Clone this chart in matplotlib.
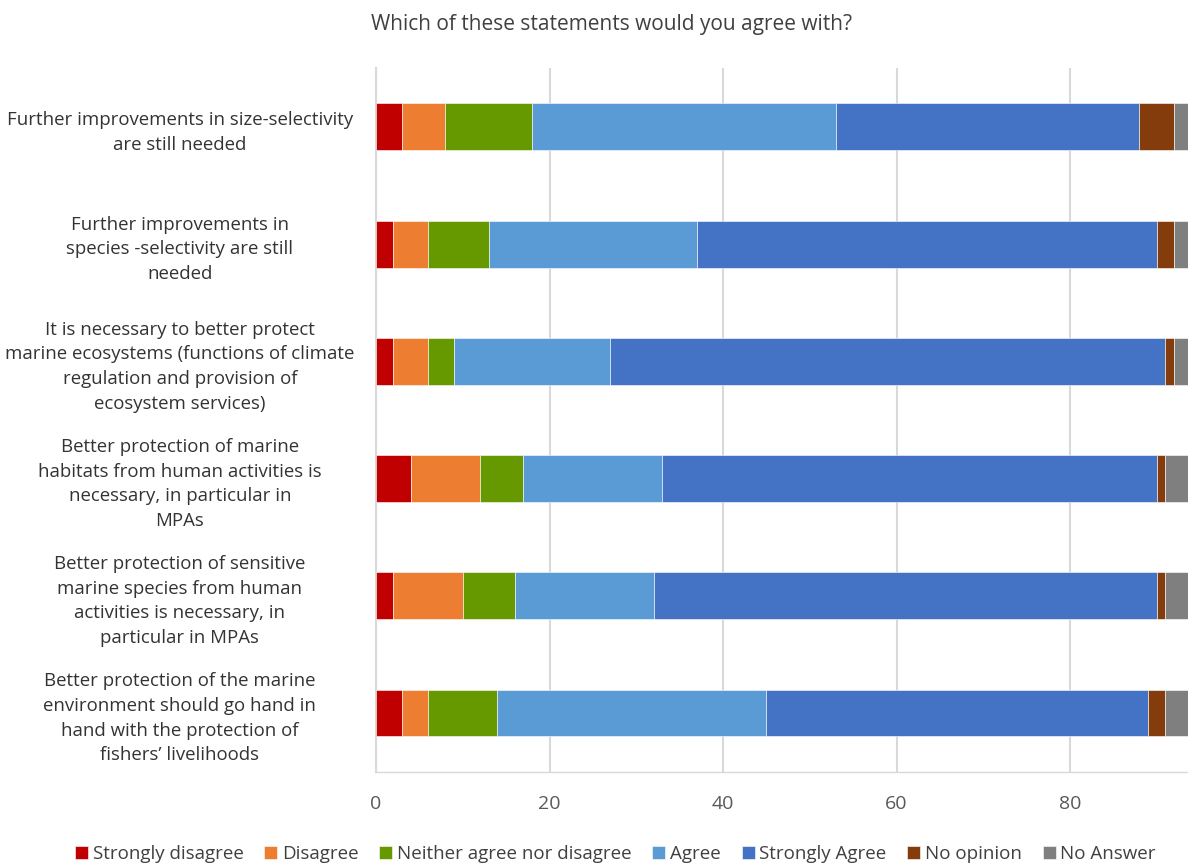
import numpy as np
import matplotlib.pyplot as plt

plt.rcParams['font.family'] = ['Open Sans', 'DejaVu Sans']

statements = [
    "Further improvements in size-selectivity\nare still needed",
    "Further improvements in\nspecies -selectivity are still\nneeded",
    "It is necessary to better protect\nmarine ecosystems (functions of climate\nregulation and provision of\necosystem services)",
    "Better protection of marine\nhabitats from human activities is\nnecessary, in particular in\nMPAs",
    "Better protection of sensitive\nmarine species from human\nactivities is necessary, in\nparticular in MPAs",
    "Better protection of the marine\nenvironment should go hand in\nhand with the protection of\nfishers\u2019 livelihoods",
]

answers = ["Strongly disagree", "Disagree", "Neither agree nor disagree",
           "Agree", "Strongly Agree", "No opinion", "No Answer"]

strongly_disagree = [3, 2, 2, 4, 2, 3]
disagree = [5, 4, 4, 8, 8, 3]
neither = [10, 7, 3, 5, 6, 8]
agree = [35, 24, 18, 16, 16, 31]
strongly_agree = [35, 53, 64, 57, 58, 44]
no_opinion = [4, 2, 1, 1, 1, 2]
no_answer = [2, 2, 2, 3, 3, 3]

colors = ["#C00000", "#ED7D31", "#669900", "#5B9BD5", "#4472C4", "#843C0C", "#7F7F7F"]

series = [strongly_disagree, disagree, neither, agree, strongly_agree, no_opinion, no_answer]

fig = plt.figure(figsize=(11.88, 8.65), dpi=100)
ax = fig.add_axes([0.3165, 0.108, 0.6835, 0.813])

y = np.arange(len(statements))
left = np.zeros(len(statements))
for name, vals, c in zip(answers, series, colors):
    ax.barh(y, vals, left=left, height=0.4, color=c, label=name,
            edgecolor='white', linewidth=0.4, zorder=3)
    left += np.array(vals)

ax.set_ylim(len(statements) - 0.5, -0.5)
ax.set_xlim(0, 93.6)
ax.set_xticks([0, 20, 40, 60, 80])
ax.set_yticks(y)
ax.set_yticklabels(statements, fontsize=13.4, color='#333333',
                   ha='center', multialignment='center', linespacing=1.47)
for lbl in ax.get_yticklabels():
    lbl.set_x(-0.2415)
ax.tick_params(axis='y', length=0, pad=0)
ax.tick_params(axis='x', length=0, labelsize=14, labelcolor='#595959', pad=17)

ax.grid(axis='x', color='#D9D9D9', linewidth=1.5, zorder=0)
for s in ['top', 'right']:
    ax.spines[s].set_visible(False)
ax.spines['left'].set_color('#D9D9D9')
ax.spines['left'].set_linewidth(1.5)
ax.spines['bottom'].set_color('#D9D9D9')
ax.spines['bottom'].set_linewidth(1.0)

fig.text(0.515, 0.972, "Which of these statements would you agree with?",
         ha='center', va='center', fontsize=15, color='#404040')

fig.legend(loc='center', bbox_to_anchor=(0.518, 0.013), ncol=7, frameon=False,
           fontsize=13.5, handlelength=0.7, handleheight=0.7, handletextpad=0.25,
           columnspacing=1.1, labelcolor='#404040')

fig.savefig('out.png', dpi=100)
